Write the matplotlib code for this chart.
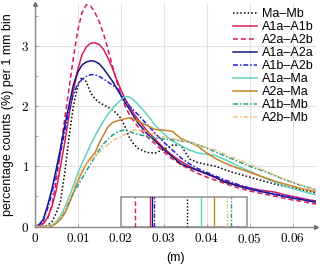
import numpy as np
import matplotlib
matplotlib.use("Agg")
import matplotlib.pyplot as plt
from matplotlib.patches import Rectangle

plt.rcParams['mathtext.fontset'] = 'cm'
plt.rcParams['font.family'] = ['Liberation Sans', 'DejaVu Sans']

# bin position in mm (1 mm bins), fine up to 24 mm then every 2 mm
bin_mm = list(range(0, 25)) + list(range(26, 67, 2))
x = np.array(bin_mm) / 1000.0

ma_mb = [0, 0, 0, 0.02, 0.08, 0.22, 0.42, 0.9, 1.5, 2.0, 2.33, 2.48, 2.4, 2.22, 2.12,
         2.06, 2.02, 1.98, 1.94, 1.88, 1.8, 1.66, 1.48, 1.37, 1.3,
         1.23, 1.22, 1.28, 1.35, 1.35, 1.12, 1.06, 1.03, 1.0, 0.95, 0.9, 0.86, 0.82,
         0.78, 0.74, 0.7, 0.67, 0.64, 0.61, 0.58, 0.55]
a1a_a1b = [0, 0.01, 0.05, 0.15, 0.33, 0.6, 1.0, 1.4, 1.85, 2.25, 2.6, 2.85, 2.98, 3.04, 3.05,
           3.02, 2.94, 2.8, 2.64, 2.45, 2.28, 2.12, 2.0, 1.88, 1.78,
           1.6, 1.45, 1.3, 1.18, 1.08, 1.0, 0.93, 0.87, 0.81, 0.76, 0.71, 0.67, 0.64,
           0.61, 0.59, 0.57, 0.53, 0.5, 0.47, 0.44, 0.42]
a2a_a2b = [0, 0.01, 0.05, 0.13, 0.35, 0.75, 1.25, 1.8, 2.3, 2.8, 3.25, 3.55, 3.68, 3.66, 3.55,
           3.4, 3.2, 2.95, 2.68, 2.43, 2.2, 2.0, 1.86, 1.75, 1.66,
           1.5, 1.37, 1.24, 1.12, 1.03, 0.95, 0.88, 0.82, 0.77, 0.72, 0.67, 0.63, 0.59,
           0.56, 0.53, 0.5, 0.47, 0.44, 0.42, 0.39, 0.37]
a1a_a2a = [0, 0.03, 0.12, 0.35, 0.62, 0.95, 1.3, 1.68, 2.02, 2.35, 2.56, 2.68, 2.73, 2.75, 2.74,
           2.7, 2.62, 2.52, 2.42, 2.3, 2.18, 2.06, 1.95, 1.83, 1.72,
           1.55, 1.42, 1.28, 1.16, 1.04, 0.98, 0.93, 0.88, 0.82, 0.74, 0.7, 0.66, 0.62,
           0.59, 0.56, 0.53, 0.5, 0.47, 0.45, 0.42, 0.4]
a1b_a2b = [0, 0.02, 0.1, 0.3, 0.55, 0.88, 1.22, 1.58, 1.92, 2.2, 2.36, 2.44, 2.49, 2.52, 2.52,
           2.49, 2.45, 2.4, 2.35, 2.3, 2.2, 2.1, 2.0, 1.93, 1.86,
           1.7, 1.55, 1.4, 1.27, 1.14, 1.04, 0.96, 0.9, 0.84, 0.78, 0.73, 0.68, 0.64,
           0.6, 0.57, 0.54, 0.51, 0.48, 0.46, 0.43, 0.41]
a1a_ma = [0, 0, 0, 0, 0.02, 0.08, 0.18, 0.32, 0.5, 0.68, 0.88, 1.05, 1.2, 1.36, 1.5,
          1.63, 1.75, 1.86, 1.95, 2.03, 2.1, 2.16, 2.15, 2.1, 2.03,
          1.87, 1.68, 1.54, 1.42, 1.34, 1.27, 1.22, 1.2, 1.18, 1.12, 1.05, 0.98, 0.92,
          0.85, 0.79, 0.73, 0.68, 0.63, 0.59, 0.55, 0.52]
a2a_ma = [0, 0, 0, 0, 0.01, 0.05, 0.12, 0.22, 0.38, 0.56, 0.75, 0.9, 1.04, 1.14, 1.22,
          1.38, 1.52, 1.65, 1.72, 1.75, 1.77, 1.79, 1.8, 1.78, 1.75,
          1.68, 1.61, 1.6, 1.58, 1.46, 1.4, 1.33, 1.22, 1.13, 1.06, 1.0, 0.95, 0.9,
          0.85, 0.8, 0.75, 0.71, 0.67, 0.63, 0.6, 0.57]
a1b_mb = [0, 0, 0, 0, 0.02, 0.07, 0.15, 0.27, 0.42, 0.56, 0.68, 0.8, 0.92, 1.04, 1.16,
          1.27, 1.37, 1.45, 1.51, 1.56, 1.59, 1.6, 1.58, 1.55, 1.53,
          1.5, 1.47, 1.45, 1.44, 1.42, 1.4, 1.36, 1.3, 1.24, 1.18, 1.12, 1.06, 1.0,
          0.95, 0.9, 0.84, 0.78, 0.73, 0.68, 0.64, 0.6]
a2b_mb = [0, 0, 0, 0, 0.02, 0.08, 0.17, 0.3, 0.46, 0.63, 0.8, 0.95, 1.05, 1.1, 1.16,
          1.23, 1.3, 1.36, 1.42, 1.46, 1.49, 1.53, 1.57, 1.6, 1.6,
          1.58, 1.52, 1.48, 1.46, 1.43, 1.4, 1.35, 1.31, 1.27, 1.21, 1.15, 1.09, 1.03,
          0.97, 0.91, 0.85, 0.79, 0.74, 0.69, 0.64, 0.6]

labels = ['Ma–Mb', 'A1a–A1b', 'A2a–A2b', 'A1a–A2a', 'A1b–A2b',
          'A1a–Ma', 'A2a–Ma', 'A1b–Mb', 'A2b–Mb']
series = [ma_mb, a1a_a1b, a2a_a2b, a1a_a2a, a1b_a2b, a1a_ma, a2a_ma, a1b_mb, a2b_mb]
# medians shown in the small box (m)
medians = [0.0353, 0.0268, 0.0233, 0.0272, 0.0278, 0.0387, 0.0417, 0.0456, 0.0446]
box_x = (0.020, 0.0493)
box_top = 0.49

dot = (0, (1, 1.4))
dash = (0, (3.2, 2))
dashdot = (0, (3.2, 1.3, 1, 1.3))
styles = [
    ('black', dot),
    ('#d81c58', '-'),
    ('#d81c58', dash),
    ('#16167a', '-'),
    ('#2020dd', dashdot),
    ('#62d2bf', '-'),
    ('#c98228', '-'),
    ('#1b9e8b', dashdot),
    ('#f0c27c', dashdot),
]

fig = plt.figure(figsize=(3.2, 2.64), dpi=100)
ax = fig.add_axes([0.1084, 0.1417, 0.8791, 0.845])

for y, lab, (c, ls) in zip(series, labels, styles):
    ax.plot(x, y, color=c, ls=ls, lw=1.1, label=lab)

ax.add_patch(Rectangle((box_x[0], 0), box_x[1] - box_x[0], box_top,
                       fill=False, ec='#999999', lw=1.2, zorder=3))
for m, (c, ls) in zip(medians, styles):
    ax.plot([m, m], [0, box_top], color=c, ls=ls, lw=1.0, zorder=4)

ax.set_xlim(0, 0.0654)
ax.set_ylim(0, 3.7)
xt = [0, 0.01, 0.02, 0.03, 0.04, 0.05, 0.06]
ax.set_xticks(xt)
ax.set_xticklabels(['$0$'] + ['$%.2f$' % v for v in xt[1:]], fontsize=9.5)
ax.set_yticks([0, 1, 2, 3])
ax.set_yticklabels(['$%d$' % v for v in [0, 1, 2, 3]], fontsize=9.5)
ax.set_yticks([0.5, 1.5, 2.5, 3.5], minor=True)
ax.tick_params(direction='in', length=2.5, color='#999999', pad=4)
ax.tick_params(axis='y', which='minor', direction='in', length=2, color='#999999')
ax.grid(True, color='#e2e2e2', lw=0.8)
ax.set_axisbelow(True)

for s in ['top', 'right']:
    ax.spines[s].set_visible(False)
for s in ['left', 'bottom']:
    ax.spines[s].set_color('#888888')
    ax.spines[s].set_linewidth(1.0)
ax.plot(1, 0, '>', color='#555555', ms=2.5, transform=ax.get_yaxis_transform(), clip_on=False)
ax.plot(0, 1, '^', color='#555555', ms=2.5, transform=ax.get_xaxis_transform(), clip_on=False)

ax.set_xlabel('(m)', fontsize=9, labelpad=4)
ax.set_ylabel('percentage counts (%) per 1 mm bin', fontsize=9, labelpad=5)

ax.legend(loc='upper right', bbox_to_anchor=(1.0, 0.99), frameon=False, fontsize=9,
          handlelength=1.9, handletextpad=0.4, labelspacing=0.08, borderpad=0.2,
          borderaxespad=0.0)

fig.savefig('out.png', dpi=100)
